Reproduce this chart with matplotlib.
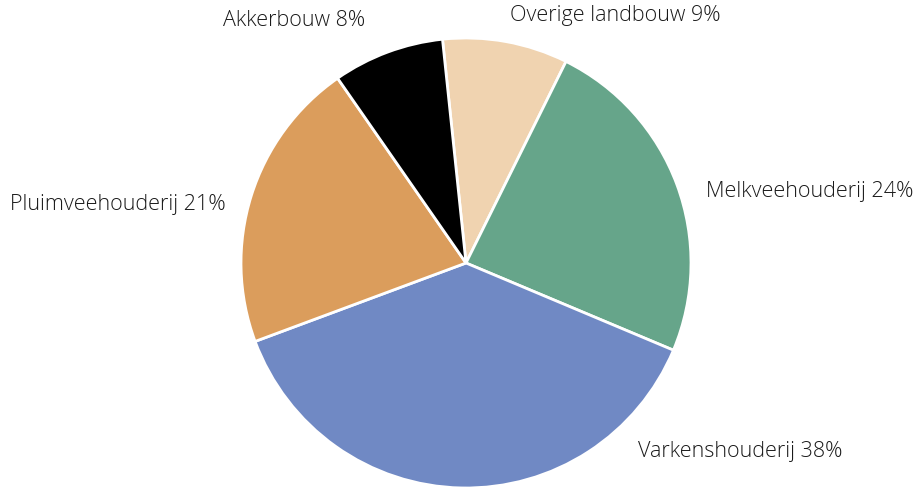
import matplotlib
matplotlib.use("Agg")
import matplotlib.pyplot as plt

# sectoren, met de klok mee vanaf boven
sectors = ["Overige landbouw", "Melkveehouderij", "Varkenshouderij", "Pluimveehouderij", "Akkerbouw"]
shares = [9, 24, 38, 21, 8]
colors = ["#F0D3B0", "#66A58A", "#7089C4", "#DB9D5C", "#000000"]

# plek en uitlijning van de labels (in straal-eenheden)
label_pos = [(0.196, 1.098), (1.067, 0.32), (0.764, -0.84), (-1.067, 0.258), (-0.449, 1.08)]
label_ha = ["left", "left", "left", "right", "right"]

plt.rcParams['font.family'] = ['Open Sans', 'DejaVu Sans']

fig = plt.figure(figsize=(9.18, 4.88), dpi=100)
ax = fig.add_axes([241/918, 0.0, 450/918, 450/488])

ax.pie(shares, colors=colors, startangle=96, counterclock=False,
       wedgeprops=dict(edgecolor="white", linewidth=2))

for name, s, (x, y), ha in zip(sectors, shares, label_pos, label_ha):
    ax.text(x, y, f"{name} {s}%", ha=ha, va="center", fontsize=15.5,
            fontweight="light", color="#1a1a1a", clip_on=False)

ax.set_xlim(-1, 1)
ax.set_ylim(-1, 1)
ax.set_aspect("equal")
ax.axis("off")

fig.savefig("out.png", dpi=100)
